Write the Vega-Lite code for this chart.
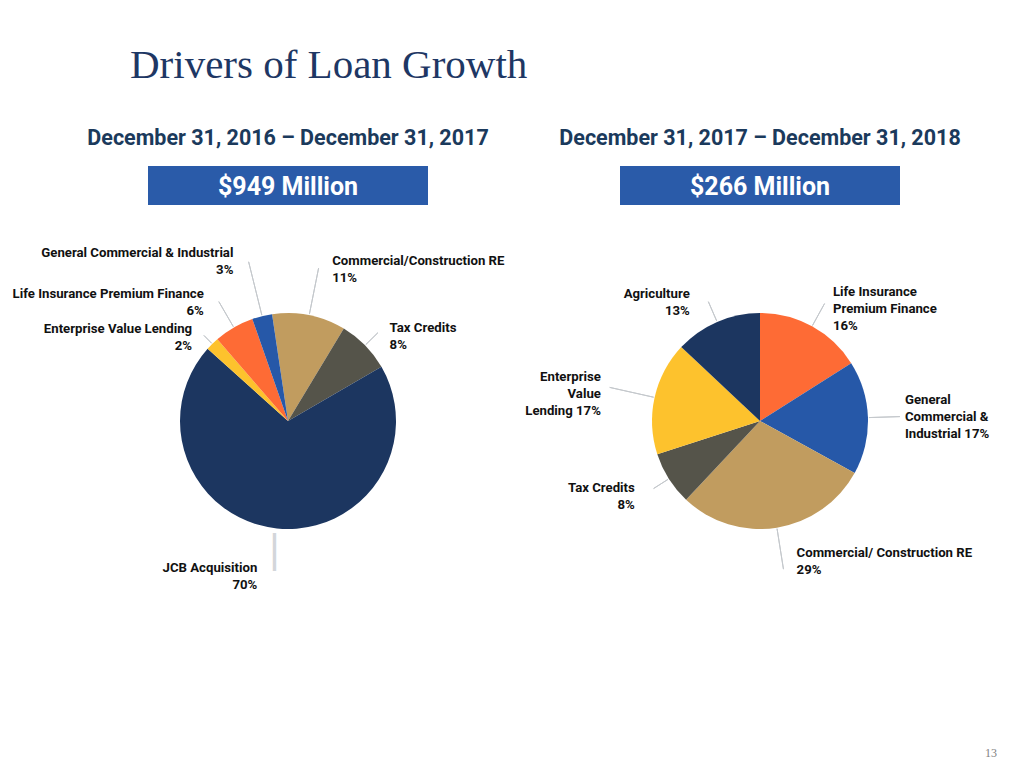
{
  "$schema": "https://vega.github.io/schema/vega-lite/v6.json",
  "background": "#ffffff",
  "autosize": {"type": "pad"},
  "padding": {"left": 8, "top": 40, "right": 0, "bottom": 0},
  "config": {
    "view": {"stroke": null},
    "font": "Roboto",
    "text": {"font": "Roboto", "fontSize": 13.2, "fontWeight": "bold", "lineHeight": 17, "lineBreak": "\n", "color": "#111111", "baseline": "alphabetic"},
    "arc": {"stroke": "#c4c8cc", "strokeWidth": 1, "filled": false, "padAngle": 3, "innerRadius": 109}
  },
  "datasets": {
    "d2017": [
      {"category": "Commercial/Construction RE", "label": "Commercial/Construction RE\n11%", "value": 11},
      {"category": "Tax Credits", "label": "Tax Credits\n8%", "value": 8},
      {"category": "JCB Acquisition", "label": "JCB Acquisition\n70%", "value": 70},
      {"category": "Enterprise Value Lending", "label": "Enterprise Value Lending\n2%", "value": 2},
      {"category": "Life Insurance Premium Finance", "label": "Life Insurance Premium Finance\n6%", "value": 6},
      {"category": "General Commercial & Industrial", "label": "General Commercial & Industrial\n3%", "value": 3}
    ],
    "d2018": [
      {"category": "Life Insurance Premium Finance", "label": "Life Insurance\nPremium Finance\n16%", "value": 16},
      {"category": "General Commercial & Industrial", "label": "General\nCommercial &\nIndustrial 17%", "value": 17},
      {"category": "Commercial/Construction RE", "label": "Commercial/ Construction RE\n29%", "value": 29},
      {"category": "Tax Credits", "label": "Tax Credits\n8%", "value": 8},
      {"category": "Enterprise Value Lending", "label": "Enterprise\nValue\nLending 17%", "value": 17},
      {"category": "Agriculture", "label": "Agriculture\n13%", "value": 13}
    ]
  },
  "bounds": "flush",
  "align": "each",
  "center": true,
  "spacing": {"row": 0, "column": 52},
  "columns": 2,
  "resolve": {"scale": {"theta": "independent"}},
  "concat": [
    {
      "width": 560, "height": 87,
      "data": {"values": [{"t": "Drivers of Loan Growth"}]},
      "mark": {"type": "text", "font": "Liberation Serif", "fontSize": 41, "fontWeight": "normal", "color": "#1e3764", "align": "left", "baseline": "alphabetic", "dx": -158, "dy": -5.5},
      "encoding": {"text": {"field": "t", "type": "nominal"}}
    },
    {
      "width": 280, "height": 87,
      "data": {"values": [{"t": ""}]},
      "mark": {"type": "text"},
      "encoding": {"text": {"field": "t", "type": "nominal"}}
    },
    {
      "width": 280, "height": 39,
      "data": {"values": [{"period": "December 31, 2016 – December 31, 2017"}]},
      "mark": {"type": "text", "fontSize": 21.5, "color": "#1b3a5c", "align": "center", "dy": -1.5},
      "encoding": {"text": {"field": "period", "type": "nominal"}}
    },
    {
      "width": 280, "height": 39,
      "data": {"values": [{"period": "December 31, 2017 – December 31, 2018"}]},
      "mark": {"type": "text", "fontSize": 21.5, "color": "#1b3a5c", "align": "center", "dy": -1.5},
      "encoding": {"text": {"field": "period", "type": "nominal"}}
    },
    {
      "width": 280, "height": 39,
      "view": {"fill": "#2a5ba9", "stroke": null},
      "data": {"values": [{"total": "$949 Million"}]},
      "mark": {"type": "text", "color": "#ffffff", "fontSize": 25, "baseline": "middle", "align": "center", "dy": 1},
      "encoding": {"text": {"field": "total", "type": "nominal"}}
    },
    {
      "width": 280, "height": 39,
      "view": {"fill": "#2a5ba9", "stroke": null},
      "data": {"values": [{"total": "$266 Million"}]},
      "mark": {"type": "text", "color": "#ffffff", "fontSize": 25, "baseline": "middle", "align": "center", "dy": 1},
      "encoding": {"text": {"field": "total", "type": "nominal"}}
    },
    {
      "width": 560, "height": 432,
      "data": {"name": "d2017"},
      "transform": [{"window": [{"op": "row_number", "as": "i"}]}],
      "encoding": {
        "theta": {"field": "value", "type": "quantitative", "stack": true, "scale": {"range": [-0.148, 6.135]}},
        "order": {"field": "i", "type": "quantitative"},
        "detail": {"field": "category", "type": "nominal"}
      },
      "layer": [
        {"mark": {"type": "arc", "filled": true, "stroke": null, "padAngle": 0, "innerRadius": 0, "outerRadius": 108}, "encoding": {"color": {"field": "category", "type": "nominal", "legend": null, "scale": {"domain": ["Commercial/Construction RE", "Tax Credits", "JCB Acquisition", "Enterprise Value Lending", "Life Insurance Premium Finance", "General Commercial & Industrial", "Agriculture"], "range": ["#c19c5f", "#55544a", "#1c3660", "#fdc22d", "#fe6b35", "#2658a8", "#1c3660"]}}}},
        {"mark": {"type": "arc", "outerRadius": 156}, "encoding": {"strokeOpacity": {"condition": {"test": "datum.category === 'Commercial/Construction RE'", "value": 1}, "value": 0}}},
        {"mark": {"type": "arc", "outerRadius": 126}, "encoding": {"strokeOpacity": {"condition": {"test": "datum.category === 'Tax Credits'", "value": 1}, "value": 0}}},
        {"mark": {"type": "arc", "outerRadius": 120}, "encoding": {"strokeOpacity": {"condition": {"test": "datum.category === 'Enterprise Value Lending'", "value": 1}, "value": 0}}},
        {"mark": {"type": "arc", "outerRadius": 138}, "encoding": {"strokeOpacity": {"condition": {"test": "datum.category === 'Life Insurance Premium Finance'", "value": 1}, "value": 0}}},
        {"mark": {"type": "arc", "outerRadius": 164}, "encoding": {"strokeOpacity": {"condition": {"test": "datum.category === 'General Commercial & Industrial'", "value": 1}, "value": 0}}},
        {"mark": {"type": "text", "radius": 131, "align": "center", "baseline": "middle", "font": "Liberation Sans", "fontWeight": "normal", "fontSize": 40, "color": "#d3d6da"}, "encoding": {"text": {"condition": {"test": "datum.category === 'JCB Acquisition'", "value": "|"}, "value": ""}}},
        {"mark": {"type": "text", "radius": 159, "dx": 13, "align": "left"}, "encoding": {"text": {"condition": {"test": "datum.category === 'Commercial/Construction RE'", "field": "label"}, "value": ""}}},
        {"mark": {"type": "text", "radius": 127, "dx": 11, "align": "left"}, "encoding": {"text": {"condition": {"test": "datum.category === 'Tax Credits'", "field": "label"}, "value": ""}}},
        {"mark": {"type": "text", "radius": 152, "dx": -15, "align": "right"}, "encoding": {"text": {"condition": {"test": "datum.category === 'JCB Acquisition'", "field": "label"}, "value": ""}}},
        {"mark": {"type": "text", "radius": 124, "dx": -9, "align": "right"}, "encoding": {"text": {"condition": {"test": "datum.category === 'Enterprise Value Lending'", "field": "label"}, "value": ""}}},
        {"mark": {"type": "text", "radius": 142, "dx": -13, "align": "right"}, "encoding": {"text": {"condition": {"test": "datum.category === 'Life Insurance Premium Finance'", "field": "label"}, "value": ""}}},
        {"mark": {"type": "text", "radius": 169, "dx": -14, "align": "right"}, "encoding": {"text": {"condition": {"test": "datum.category === 'General Commercial & Industrial'", "field": "label"}, "value": ""}}}
      ]
    },
    {
      "width": 280, "height": 432,
      "title": {"text": "13", "orient": "bottom", "anchor": "end", "frame": "group", "offset": 120, "dx": 97, "font": "Liberation Serif", "fontSize": 12, "fontWeight": "normal", "color": "#7f7f7f", "baseline": "alphabetic"},
      "data": {"name": "d2018"},
      "transform": [{"window": [{"op": "row_number", "as": "i"}]}],
      "encoding": {
        "theta": {"field": "value", "type": "quantitative", "stack": true, "scale": {"range": [0, 6.2832]}},
        "order": {"field": "i", "type": "quantitative"},
        "detail": {"field": "category", "type": "nominal"}
      },
      "layer": [
        {"mark": {"type": "arc", "filled": true, "stroke": null, "padAngle": 0, "innerRadius": 0, "outerRadius": 108}, "encoding": {"color": {"field": "category", "type": "nominal", "legend": null, "scale": {"domain": ["Commercial/Construction RE", "Tax Credits", "JCB Acquisition", "Enterprise Value Lending", "Life Insurance Premium Finance", "General Commercial & Industrial", "Agriculture"], "range": ["#c19c5f", "#55544a", "#1c3660", "#fdc22d", "#fe6b35", "#2658a8", "#1c3660"]}}}},
        {"mark": {"type": "arc", "outerRadius": 134}, "encoding": {"strokeOpacity": {"condition": {"test": "datum.category === 'Life Insurance Premium Finance'", "value": 1}, "value": 0}}},
        {"mark": {"type": "arc", "outerRadius": 140}, "encoding": {"strokeOpacity": {"condition": {"test": "datum.category === 'General Commercial & Industrial'", "value": 1}, "value": 0}}},
        {"mark": {"type": "arc", "outerRadius": 150}, "encoding": {"strokeOpacity": {"condition": {"test": "datum.category === 'Commercial/Construction RE'", "value": 1}, "value": 0}}},
        {"mark": {"type": "arc", "outerRadius": 126}, "encoding": {"strokeOpacity": {"condition": {"test": "datum.category === 'Tax Credits'", "value": 1}, "value": 0}}},
        {"mark": {"type": "arc", "outerRadius": 154}, "encoding": {"strokeOpacity": {"condition": {"test": "datum.category === 'Enterprise Value Lending'", "value": 1}, "value": 0}}},
        {"mark": {"type": "arc", "outerRadius": 130}, "encoding": {"strokeOpacity": {"condition": {"test": "datum.category === 'Agriculture'", "value": 1}, "value": 0}}},
        {"mark": {"type": "text", "radius": 141, "dx": 5, "dy": -1, "align": "left"}, "encoding": {"text": {"condition": {"test": "datum.category === 'Life Insurance Premium Finance'", "field": "label"}, "value": ""}}},
        {"mark": {"type": "text", "radius": 145, "dy": -12, "align": "left"}, "encoding": {"text": {"condition": {"test": "datum.category === 'General Commercial & Industrial'", "field": "label"}, "value": ""}}},
        {"mark": {"type": "text", "radius": 138, "dx": 15, "align": "left"}, "encoding": {"text": {"condition": {"test": "datum.category === 'Commercial/Construction RE'", "field": "label"}, "value": ""}}},
        {"mark": {"type": "text", "radius": 140, "dx": -7, "dy": -4, "align": "right"}, "encoding": {"text": {"condition": {"test": "datum.category === 'Tax Credits'", "field": "label"}, "value": ""}}},
        {"mark": {"type": "text", "radius": 163, "dy": -4, "align": "right"}, "encoding": {"text": {"condition": {"test": "datum.category === 'Enterprise Value Lending'", "field": "label"}, "value": ""}}},
        {"mark": {"type": "text", "radius": 134, "dx": -17, "align": "right"}, "encoding": {"text": {"condition": {"test": "datum.category === 'Agriculture'", "field": "label"}, "value": ""}}}
      ]
    }
  ]
}
